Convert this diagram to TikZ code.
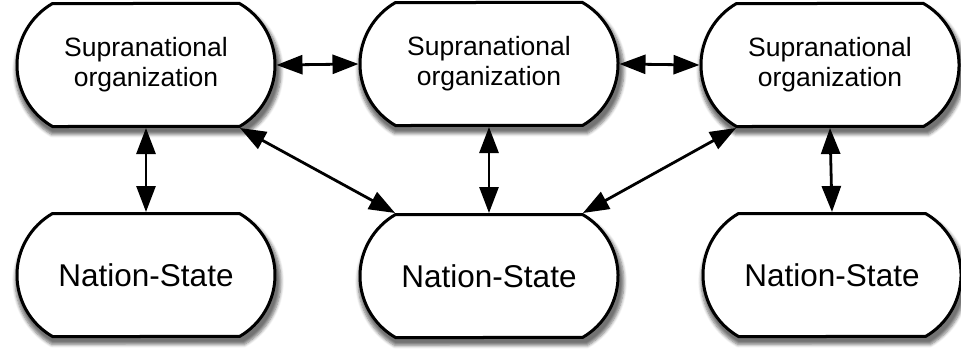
\documentclass[tikz,border=0pt]{standalone}
\usepackage{fontspec}
\setmainfont{Liberation Sans}
\usepackage{tikz}
\usetikzlibrary{arrows.meta,shapes.misc,shadows.blur}
\tikzstyle{unitbox} = [rounded rectangle, rounded rectangle arc length=120, minimum width=258pt, minimum height=123pt, inner sep=0pt, align=center, draw=black, line width=3pt, fill=white, blur shadow={shadow xshift=2pt, shadow yshift=-6pt, shadow scale=1.03, shadow blur radius=3pt, shadow blur steps=6, shadow opacity=55}]
\tikzstyle{orgbox} = [unitbox, font=\fontsize{26.5}{30}\selectfont]
\tikzstyle{statebox} = [unitbox, font=\fontsize{31.5}{36}\selectfont]
\tikzstyle{link} = [line width=2.8pt, >={Triangle[length=26pt,width=19pt]}, <->]

\begin{document}
\begin{tikzpicture}[x=1pt, y=-1pt]
\useasboundingbox (0,0) rectangle (961,353);
% Supranational organizations
\node[orgbox] (org1) at (146,65) {Supranational\\organization};
\node[orgbox] (org2) at (489,64) {Supranational\\organization};
\node[orgbox] (org3) at (830,65) {Supranational\\organization};

% Nation-states
\node[statebox] (nat1) at (146,275) {Nation-State};
\node[statebox] (nat2) at (489,276) {Nation-State};
\node[statebox] (nat3) at (832,275) {Nation-State};

% Links
\draw[link] (org1.east) -- (org2.west);
\draw[link] (org2.east) -- (org3.west);
\draw[link] (org1.south) -- (nat1.north);
\draw[link] (org2.south) -- (nat2.north);
\draw[link] (org3.south) -- (nat3.north);
\draw[link] (org1.south east) -- (nat2.north west);
\draw[link] (nat2.north east) -- (org3.south west);
\end{tikzpicture}
\end{document}
